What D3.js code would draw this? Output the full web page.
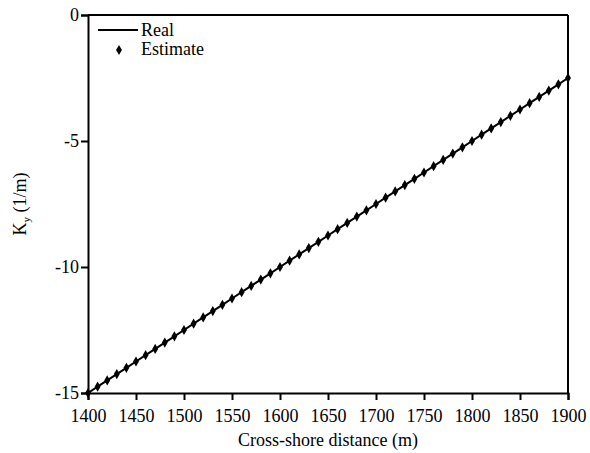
<!DOCTYPE html>
<html><head><meta charset="utf-8">
<script src="https://cdn.jsdelivr.net/npm/d3@7"></script>
<style>body{margin:0;background:#fff}svg{display:block}svg text{font-family:"Liberation Serif","DejaVu Serif",serif !important;fill:#000}</style>
</head><body><svg id="c" width="590" height="453"></svg>
<script>
const distance = [1400,1410,1420,1430,1440,1450,1460,1470,1480,1490,1500,1510,1520,1530,1540,1550,1560,1570,1580,1590,1600,1610,1620,1630,1640,1650,1660,1670,1680,1690,1700,1710,1720,1730,1740,1750,1760,1770,1780,1790,1800,1810,1820,1830,1840,1850,1860,1870,1880,1890,1900];
const realKy = [-15,-14.75,-14.5,-14.25,-14,-13.75,-13.5,-13.25,-13,-12.75,-12.5,-12.25,-12,-11.75,-11.5,-11.25,-11,-10.75,-10.5,-10.25,-10,-9.75,-9.5,-9.25,-9,-8.75,-8.5,-8.25,-8,-7.75,-7.5,-7.25,-7,-6.75,-6.5,-6.25,-6,-5.75,-5.5,-5.25,-5,-4.75,-4.5,-4.25,-4,-3.75,-3.5,-3.25,-3,-2.75,-2.5];
const estimateKy = [-15,-14.75,-14.5,-14.25,-14,-13.75,-13.5,-13.25,-13,-12.75,-12.5,-12.25,-12,-11.75,-11.5,-11.25,-11,-10.75,-10.5,-10.25,-10,-9.75,-9.5,-9.25,-9,-8.75,-8.5,-8.25,-8,-7.75,-7.5,-7.25,-7,-6.75,-6.5,-6.25,-6,-5.75,-5.5,-5.25,-5,-4.75,-4.5,-4.25,-4,-3.75,-3.5,-3.25,-3,-2.75,-2.5];
const xTicks = [1400,1450,1500,1550,1600,1650,1700,1750,1800,1850,1900];
const yTicks = [0,-5,-10,-15];

const svg = d3.select("#c");
const L=88, R=568, T=15, B=393;
const x = d3.scaleLinear().domain([1400,1900]).range([L,R]);
const y = d3.scaleLinear().domain([-15,0]).range([B,T]);

svg.append("line").attr("x1",L).attr("x2",R).attr("y1",T).attr("y2",T).attr("stroke","#000").attr("stroke-width",2);
svg.append("line").attr("x1",R).attr("x2",R).attr("y1",T).attr("y2",B).attr("stroke","#000").attr("stroke-width",2);

const xa = svg.append("g").attr("transform",`translate(0,${B})`)
  .call(d3.axisBottom(x).tickValues(xTicks).tickSize(7).tickPadding(9).tickFormat(d3.format("d")));
const ya = svg.append("g").attr("transform",`translate(${L},0)`)
  .call(d3.axisLeft(y).tickValues(yTicks).tickSize(7).tickPadding(2).tickFormat(d=>String(d)));
[xa,ya].forEach(a=>{
  a.attr("font-family",null);
  a.select(".domain").attr("stroke","#000").attr("stroke-width",2);
  a.selectAll(".tick line").attr("stroke","#000").attr("stroke-width",2);
  a.selectAll("text").attr("font-size",18).attr("fill","#000");
});

svg.append("path").datum(distance.map((d,i)=>[d,realKy[i]]))
  .attr("fill","none").attr("stroke","#000").attr("stroke-width",2)
  .attr("d",d3.line().x(d=>x(d[0])).y(d=>y(d[1])));

const diamond = d3.symbol().type(d3.symbolDiamond).size(30);
svg.append("g").selectAll("path").data(distance.map((d,i)=>[d,estimateKy[i]])).join("path")
  .attr("d",diamond).attr("transform",d=>`translate(${x(d[0])},${y(d[1])})`).attr("fill","#000");

svg.append("line").attr("x1",98).attr("x2",138).attr("y1",30).attr("y2",30).attr("stroke","#000").attr("stroke-width",2);
svg.append("text").attr("x",141).attr("y",36).attr("font-size",18).text("Real");
svg.append("path").attr("d",diamond).attr("transform","translate(119,50)").attr("fill","#000");
svg.append("text").attr("x",141).attr("y",55).attr("font-size",18).text("Estimate");

svg.append("text").attr("x",(L+R)/2).attr("y",446).attr("text-anchor","middle").attr("font-size",18).text("Cross-shore distance (m)");
const yt = svg.append("text").attr("transform","translate(26,204) rotate(-90)").attr("text-anchor","middle").attr("font-size",18);
yt.append("tspan").text("K");
yt.append("tspan").attr("font-size",11).attr("dy",4).text("y");
yt.append("tspan").attr("dy",-4).text(" (1/m)");
</script></body></html>
